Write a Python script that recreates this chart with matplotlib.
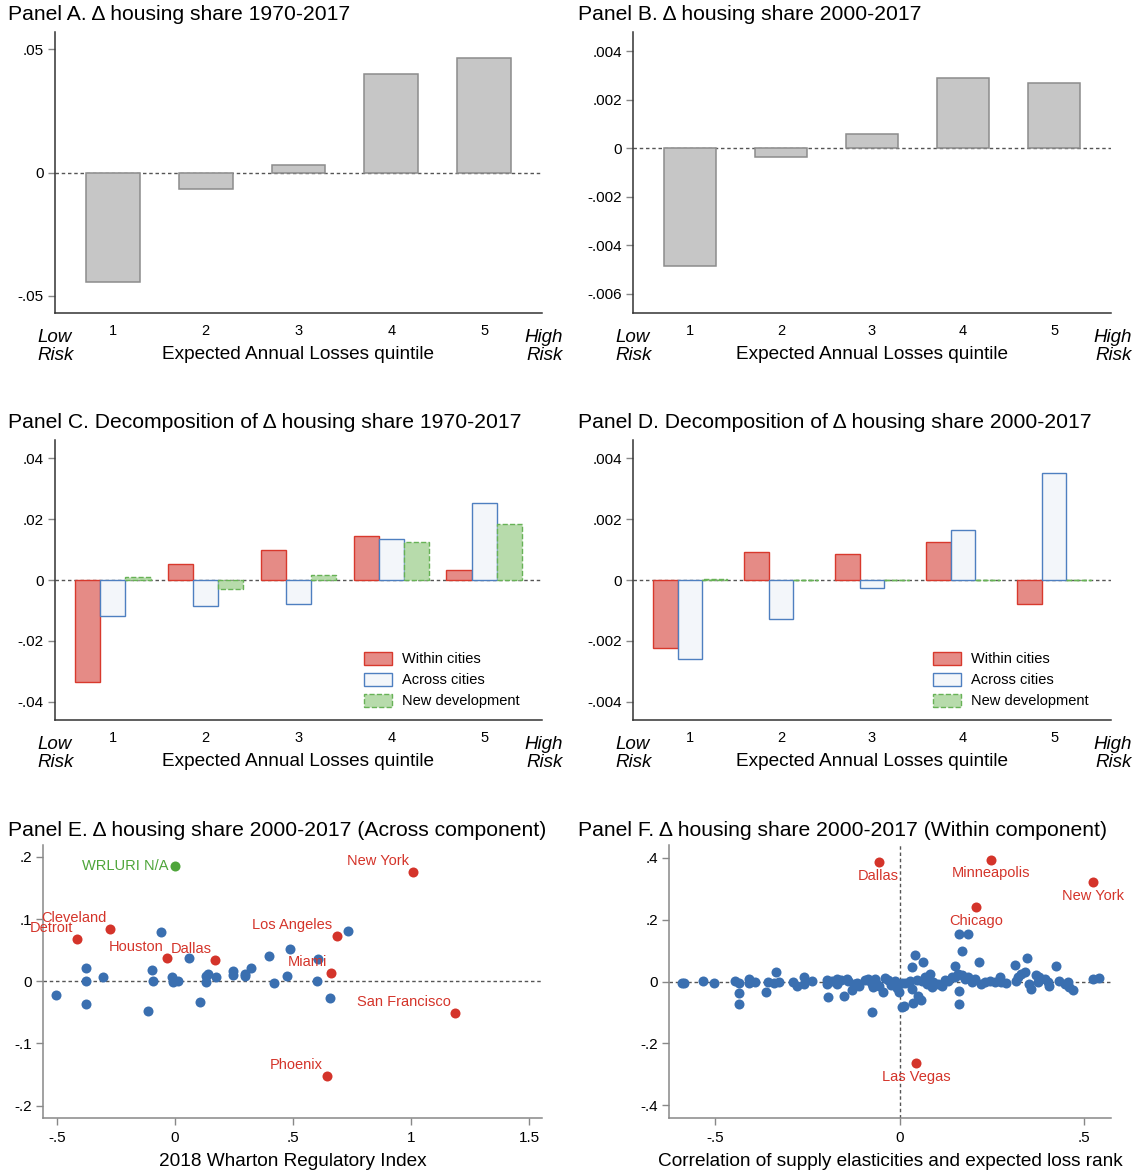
import numpy as np
import matplotlib
matplotlib.use('Agg')
import matplotlib.pyplot as plt

plt.rcParams['font.family'] = ['Liberation Sans', 'DejaVu Sans']

# -----------------------
# Data
# -----------------------
quintiles = [1, 2, 3, 4, 5]

share_1970 = [-0.0444, -0.0065, 0.0031, 0.0401, 0.0465]
share_2000 = [-0.00487, -0.00035, 0.000585, 0.00291, 0.00271]

within_1970 = [-0.0334, 0.0051, 0.0097, 0.0143, 0.0032]
across_1970 = [-0.0117, -0.0087, -0.0080, 0.0134, 0.0253]
newdev_1970 = [0.0009, -0.0029, 0.0018, 0.0125, 0.0184]

within_2000 = [-0.00222, 0.00092, 0.00087, 0.00125, -0.00079]
across_2000 = [-0.00261, -0.00127, -0.00026, 0.00165, 0.00353]
newdev_2000 = [0.00002, -0.00001, 0.00001, 0.00001, 0.00001]

# Panel E: Wharton index vs across component
e_x = [-0.506, -0.378, -0.376, -0.378, -0.304, -0.060, -0.098, -0.093, -0.115, -0.012,
       -0.010, 0.011, 0.058, 0.106, 0.130, 0.139, 0.132, 0.172, 0.247, 0.245,
       0.298, 0.298, 0.322, 0.398, 0.418, 0.476, 0.487, 0.605, 0.601, 0.658, 0.734]
e_y = [-0.023, 0.022, 0.000, -0.037, 0.007, 0.079, 0.018, 0.000, -0.048, 0.007,
       -0.001, 0.000, 0.037, -0.033, 0.008, 0.011, -0.001, 0.007, 0.016, 0.010,
       0.012, 0.008, 0.021, 0.041, -0.003, 0.009, 0.052, 0.035, 0.000, -0.027, 0.080]
e_city = ['New York', 'Cleveland', 'Detroit', 'Houston', 'Dallas', 'Los Angeles',
          'Miami', 'San Francisco', 'Phoenix']
e_city_x = [1.009, -0.274, -0.416, -0.033, 0.171, 0.685, 0.661, 1.186, 0.643]
e_city_y = [0.175, 0.084, 0.068, 0.037, 0.034, 0.072, 0.013, -0.051, -0.153]
e_na_x, e_na_y = 0.0, 0.185

# Panel F: supply elasticity correlation vs within component
f_x = [-0.590, -0.584, -0.533, -0.503, -0.446, -0.435, -0.435, -0.435, -0.408, -0.408,
       -0.392, -0.362, -0.337, -0.359, -0.342, -0.327, -0.290, -0.279, -0.259, -0.259,
       -0.239, -0.198, -0.198, -0.196, -0.185, -0.171, -0.171, -0.153, -0.160, -0.143,
       -0.140, -0.131, -0.125, -0.116, -0.110, -0.095, -0.086, -0.082, -0.077, -0.073,
       -0.068, -0.064, -0.075, -0.058, -0.047, -0.041, -0.032, -0.023, -0.014, -0.009,
       -0.003, 0.005, 0.014, 0.005, 0.012, 0.027, 0.032, 0.033, 0.036, 0.049,
       0.057, 0.063, 0.045, 0.059, 0.068, 0.072, 0.081, 0.086, 0.042, 0.081,
       0.090, 0.104, 0.113, 0.122, 0.131, 0.140, 0.149, 0.158, 0.167, 0.176,
       0.185, 0.194, 0.203, 0.149, 0.168, 0.160, 0.160, 0.214, 0.221, 0.230,
       0.243, 0.257, 0.270, 0.275, 0.288, 0.311, 0.345, 0.338, 0.320, 0.315,
       0.329, 0.351, 0.356, 0.369, 0.378, 0.374, 0.392, 0.401, 0.405, 0.423,
       0.432, 0.446, 0.455, 0.459, 0.469, 0.524, 0.539, 0.159, 0.185]
f_y = [-0.005, -0.005, 0.001, -0.005, 0.001, -0.005, -0.037, -0.071, 0.008, -0.005,
       0.000, -0.033, 0.030, 0.000, -0.005, 0.000, 0.000, -0.015, 0.016, -0.009,
       0.001, 0.005, -0.008, -0.050, 0.001, 0.010, -0.008, -0.045, 0.005, 0.010,
       0.001, -0.028, -0.008, -0.005, -0.015, 0.005, 0.010, 0.001, -0.008, -0.018,
       0.010, -0.005, -0.099, -0.015, -0.034, 0.012, 0.005, -0.010, 0.001, -0.020,
       -0.032, -0.005, -0.005, -0.081, -0.079, 0.001, -0.023, 0.047, -0.070, -0.048,
       -0.060, 0.064, 0.005, 0.001, 0.016, -0.008, 0.001, -0.016, 0.085, 0.025,
       -0.002, -0.008, -0.013, 0.005, 0.003, 0.014, 0.016, 0.025, 0.020, 0.009,
       0.014, -0.002, 0.009, 0.052, 0.099, -0.031, -0.073, 0.063, -0.008, -0.002,
       0.003, -0.002, 0.014, -0.002, -0.005, 0.055, 0.076, 0.030, 0.014, 0.001,
       0.025, -0.008, -0.024, 0.020, 0.014, -0.002, 0.009, -0.002, -0.013, 0.052,
       0.003, -0.008, -0.002, -0.018, -0.028, 0.010, 0.012, 0.155, 0.155]
f_city = ['Dallas', 'Minneapolis', 'New York', 'Chicago', 'Las Vegas']
f_city_x = [-0.058, 0.248, 0.524, 0.206, 0.044]
f_city_y = [0.387, 0.395, 0.321, 0.241, -0.262]

# -----------------------
# Style
# -----------------------
W, H = 1141, 1176
fig = plt.figure(figsize=(W / 100, H / 100), dpi=100)

gray_fill, gray_edge = '#c6c6c6', '#8c8c8c'
red_fill, red_edge = '#e58b86', '#d8392d'
blue_fill, blue_edge = '#f3f6fa', '#4e7fc0'
green_fill, green_edge = '#b7dbab', '#67b256'
dot_blue, dot_red, dot_green = '#3a6fb0', '#d4342a', '#4ea53a'

dot_size = 52
label_size = 13.7


def px_axes(x0, y0, x1, y1):
    return fig.add_axes([x0 / W, 1 - y1 / H, (x1 - x0) / W, (y1 - y0) / H])


def style_axes(ax, spine_color='#333333'):
    for s in ['top', 'right']:
        ax.spines[s].set_visible(False)
    for s in ['left', 'bottom']:
        ax.spines[s].set_color(spine_color)
        ax.spines[s].set_linewidth(1.1)
    ax.tick_params(axis='y', length=5, width=1, color='#888888', labelsize=11, pad=3)


def bar_panel(ax, yticks, ylabels, ylim):
    style_axes(ax)
    ax.axhline(0, color='#555555', linestyle=(0, (2.5, 2)), linewidth=1, zorder=1)
    ax.set_xlim(0.375, 5.625)
    ax.set_ylim(*ylim)
    ax.set_xticks(quintiles)
    ax.tick_params(axis='x', length=0, pad=8, labelsize=10.5)
    ax.set_yticks(yticks)
    ax.set_yticklabels(ylabels)
    ax.set_xlabel('Expected Annual Losses quintile', fontsize=label_size, labelpad=6)
    ax.text(-0.036, -0.12, 'Low\nRisk', transform=ax.transAxes, style='italic',
            fontsize=13.5, ha='left', va='center', linespacing=1.05)
    ax.text(1.043, -0.12, 'High\nRisk', transform=ax.transAxes, style='italic',
            fontsize=13.5, ha='right', va='center', linespacing=1.05)


def decomp_bars(ax, within, across, newdev):
    w = 0.27
    x = np.array(quintiles)
    ax.bar(x - w, within, w, color=red_fill, edgecolor=red_edge, linewidth=1.0,
           label='Within cities', zorder=2)
    ax.bar(x, across, w, color=blue_fill, edgecolor=blue_edge, linewidth=1.0,
           label='Across cities', zorder=2)
    ax.bar(x + w, newdev, w, color=green_fill, edgecolor=green_edge, linewidth=1.0,
           linestyle='--', label='New development', zorder=2)
    ax.legend(loc='lower right', bbox_to_anchor=(0.975, 0.005), frameon=False,
              fontsize=10.5, handlelength=1.9, handleheight=1.0,
              labelspacing=0.45, handletextpad=0.7, borderpad=0.2)


def title(x, y, text):
    fig.text(x / W, 1 - y / H, text, fontsize=15.2, ha='left', va='center')


# Panel A
axA = px_axes(55, 32, 542, 313)
bar_panel(axA, [0.05, 0, -0.05], ['.05', '0', '-.05'], (-0.057, 0.057))
axA.bar(quintiles, share_1970, 0.58, color=gray_fill, edgecolor=gray_edge, linewidth=1.1, zorder=2)
title(8, 15, 'Panel A. Δ housing share 1970-2017')

# Panel B
axB = px_axes(633, 32, 1111, 313)
bar_panel(axB, [0.004, 0.002, 0, -0.002, -0.004, -0.006],
          ['.004', '.002', '0', '-.002', '-.004', '-.006'], (-0.0068, 0.0048))
axB.bar(quintiles, share_2000, 0.58, color=gray_fill, edgecolor=gray_edge, linewidth=1.1, zorder=2)
title(578, 15, 'Panel B. Δ housing share 2000-2017')

# Panel C
axC = px_axes(55, 440, 542, 720)
bar_panel(axC, [0.04, 0.02, 0, -0.02, -0.04], ['.04', '.02', '0', '-.02', '-.04'], (-0.046, 0.046))
decomp_bars(axC, within_1970, across_1970, newdev_1970)
title(8, 422, 'Panel C. Decomposition of Δ housing share 1970-2017')

# Panel D
axD = px_axes(633, 440, 1111, 720)
bar_panel(axD, [0.004, 0.002, 0, -0.002, -0.004], ['.004', '.002', '0', '-.002', '-.004'],
          (-0.0046, 0.0046))
decomp_bars(axD, within_2000, across_2000, newdev_2000)
title(578, 422, 'Panel D. Decomposition of Δ housing share 2000-2017')

# Panel E
axE = px_axes(43, 845, 542, 1118)
style_axes(axE, '#888888')
axE.axhline(0, color='#555555', linestyle=(0, (2.5, 2)), linewidth=1, zorder=1)
axE.scatter(e_x, e_y, s=dot_size, color=dot_blue, linewidths=0, zorder=3)
axE.scatter(e_city_x, e_city_y, s=dot_size, color=dot_red, linewidths=0, zorder=3)
axE.scatter([e_na_x], [e_na_y], s=dot_size, color=dot_green, linewidths=0, zorder=3)
for name, cx, cy in zip(e_city, e_city_x, e_city_y):
    axE.annotate(name, (cx, cy), xytext=(-3, 8), textcoords='offset points',
                 ha='right', va='center', color=dot_red, fontsize=10.5)
axE.annotate('WRLURI N/A', (e_na_x, e_na_y), xytext=(-5, 0), textcoords='offset points',
             ha='right', va='center', color=dot_green, fontsize=10.5)
axE.set_xlim(-0.56, 1.555)
axE.set_ylim(-0.22, 0.219)
axE.set_xticks([-0.5, 0, 0.5, 1, 1.5])
axE.set_xticklabels(['-.5', '0', '.5', '1', '1.5'])
axE.set_yticks([0.2, 0.1, 0, -0.1, -0.2])
axE.set_yticklabels(['.2', '.1', '0', '-.1', '-.2'])
axE.tick_params(axis='x', length=5, width=1, color='#888888', labelsize=11, pad=4)
axE.set_xlabel('2018 Wharton Regulatory Index', fontsize=label_size, labelpad=6)
title(8, 830, 'Panel E. Δ housing share 2000-2017 (Across component)')

# Panel F
axF = px_axes(669, 845, 1111, 1118)
style_axes(axF, '#888888')
axF.axhline(0, color='#555555', linestyle=(0, (2.5, 2)), linewidth=1, zorder=1)
axF.axvline(0, color='#555555', linestyle=(0, (2.5, 2)), linewidth=1, zorder=1)
axF.scatter(f_x, f_y, s=dot_size, color=dot_blue, linewidths=0, zorder=3)
axF.scatter(f_city_x, f_city_y, s=dot_size, color=dot_red, linewidths=0, zorder=3)
for name, cx, cy in zip(f_city, f_city_x, f_city_y):
    axF.annotate(name, (cx, cy), xytext=(0, -10), textcoords='offset points',
                 ha='center', va='center', color=dot_red, fontsize=10.5)
axF.set_xlim(-0.626, 0.572)
axF.set_ylim(-0.441, 0.442)
axF.set_xticks([-0.5, 0, 0.5])
axF.set_xticklabels(['-.5', '0', '.5'])
axF.set_yticks([0.4, 0.2, 0, -0.2, -0.4])
axF.set_yticklabels(['.4', '.2', '0', '-.2', '-.4'])
axF.tick_params(axis='x', length=5, width=1, color='#888888', labelsize=11, pad=4)
axF.set_xlabel('Correlation of supply elasticities and expected loss rank',
               fontsize=label_size, labelpad=6)
title(578, 830, 'Panel F. Δ housing share 2000-2017 (Within component)')

fig.savefig('out.png', dpi=100)
